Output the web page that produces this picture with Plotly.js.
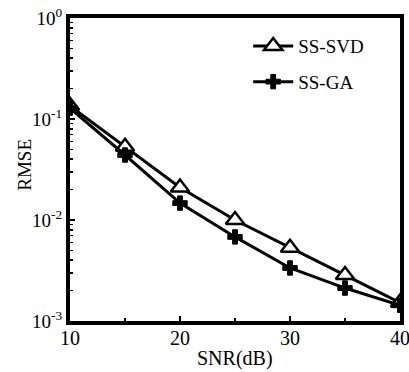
<!DOCTYPE html>
<html>
<head>
<meta charset="utf-8">
<script src="https://cdn.plot.ly/plotly-3.0.1.min.js"></script>
<style>html,body{margin:0;padding:0;background:#fff;}#chart{width:409px;height:372px;}</style>
</head>
<body>
<div id="chart"></div>
<script>
const snr = [10, 15, 20, 25, 30, 35, 40];
const rmseSVD = [0.135, 0.053, 0.021, 0.0100, 0.0053, 0.00285, 0.00152];
const rmseGA  = [0.128, 0.044, 0.0147, 0.0068, 0.00335, 0.00212, 0.00143];
const yTickVals = [1, 0.1, 0.01, 0.001];
const yTickText = ['10<sup>0</sup>', '10<sup>-1</sup>', '10<sup>-2</sup>', '10<sup>-3</sup>'];
const xTickVals = [10, 20, 30, 40];
const seriesNames = ['SS-SVD', 'SS-GA'];
const xTitle = 'SNR(dB)';
const yTitle = 'RMSE';

const minorY = [];
[0.001, 0.01, 0.1].forEach(d => { for (let k = 2; k <= 9; k++) minorY.push(d * k); });

const font = {family: 'Liberation Serif, Times New Roman, serif', color: '#000'};
const f = s => Object.assign({size: s}, font);

const traces = [
  {
    x: snr, y: rmseSVD, name: seriesNames[0], type: 'scatter', mode: 'lines+markers',
    legendgroup: 'a',
    line: {color: '#000', width: 3},
    marker: {symbol: 'triangle-up', size: 16, color: '#fff', line: {color: '#000', width: 2.5}}
  },
  {
    x: snr, y: rmseGA, name: seriesNames[1], type: 'scatter', mode: 'lines+markers',
    legendgroup: 'b',
    line: {color: '#000', width: 3},
    marker: {symbol: 'cross', size: 12, color: '#000', line: {color: '#000', width: 1}}
  }
];

const layout = {
  width: 409, height: 372,
  margin: {l: 70, r: 9, t: 18, b: 51},
  paper_bgcolor: '#fff', plot_bgcolor: '#fff',
  font: f(19),
  showlegend: true,
  legend: {
    x: 0.54, y: 0.97, xanchor: 'left', yanchor: 'top',
    bgcolor: 'rgba(0,0,0,0)', borderwidth: 0,
    font: f(19),
    tracegroupgap: 8, itemwidth: 40
  },
  xaxis: {
    range: [10, 40],
    tickmode: 'array', tickvals: xTickVals,
    ticks: 'inside', ticklen: 5, tickwidth: 1.5, tickcolor: '#000',
    minor: {dtick: 5, ticks: 'inside', ticklen: 3, tickcolor: '#000'},
    showline: true, linewidth: 4, linecolor: '#000', mirror: true,
    showgrid: false, zeroline: false,
    tickfont: f(20), ticklabelstandoff: -4, ticklabeloverflow: 'allow'
  },
  yaxis: {
    type: 'log', range: [-3, 0],
    tickmode: 'array', tickvals: yTickVals, ticktext: yTickText,
    ticks: 'inside', ticklen: 5, tickwidth: 1.5, tickcolor: '#000',
    minor: {tickmode: 'array', tickvals: minorY, ticks: 'inside', ticklen: 3, tickcolor: '#000'},
    showline: true, linewidth: 4, linecolor: '#000', mirror: true,
    showgrid: false, zeroline: false,
    tickfont: f(19)
  },
  annotations: [
    {text: xTitle, xref: 'paper', yref: 'paper', x: 0.5, y: -0.123, xanchor: 'center', yanchor: 'middle',
     showarrow: false, font: f(20)},
    {text: yTitle, xref: 'paper', yref: 'paper', x: -0.137, y: 0.515, xanchor: 'center', yanchor: 'middle',
     textangle: -90, showarrow: false, font: f(19)}
  ]
};

Plotly.newPlot('chart', traces, layout, {displayModeBar: false, staticPlot: true});
</script>
</body>
</html>
